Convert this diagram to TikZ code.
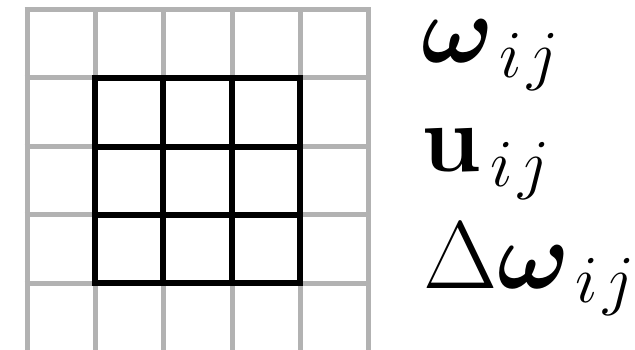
\RequirePackage{fix-cm}
\documentclass[tikz,border=0pt]{standalone}
\usepackage{amsmath}
\usepackage{bm}
\newcommand{\subij}{\mkern2.5mu i\mkern1.5mu j}
\begin{document}
\begin{tikzpicture}[x=1pt,y=-1pt,
  gridline/.style={draw={rgb,255:red,178;green,178;blue,178},line width=5pt},
  boldline/.style={draw=black,line width=5.5pt},
  lbl/.style={anchor=base west,inner sep=0pt,font=\fontsize{96}{110}\selectfont}]
\useasboundingbox[fill=white] (0,0) rectangle (635,350);
% gray grid
\foreach \x in {27,95,163,232,300,368} \draw[gridline] (\x,7.5) -- (\x,352);
\foreach \y in {10,78,147,215,283} \draw[gridline] (24.5,\y) -- (370.5,\y);
% black inner grid
\foreach \x in {95,163,232,300} \draw[boldline] (\x,75.25) -- (\x,285.75);
\foreach \y in {78,147,215,283} \draw[boldline] (92.25,\y) -- (302.75,\y);
% labels
\node[lbl] (w) at (421,63) {$\bm{\omega}_{\subij}$};
\node[lbl] (u) at (421,172) {$\mathbf{u}_{\subij}$};
\node[lbl] (dw) at (423,288) {$\Delta\bm{\omega}_{\subij}$};
\end{tikzpicture}
\end{document}
